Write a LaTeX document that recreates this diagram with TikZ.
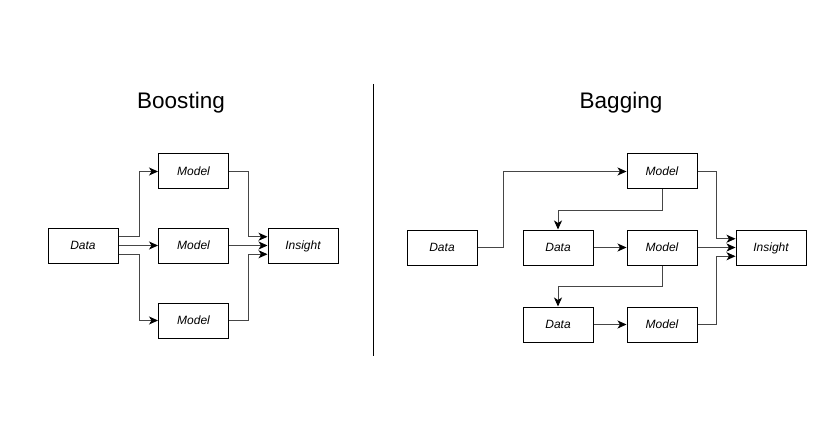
\documentclass[tikz,border=0pt]{standalone}
\usepackage{fontspec}
\setmainfont{Liberation Sans}
\usetikzlibrary{arrows.meta}
\definecolor{linkgray}{RGB}{70,70,70}
\tikzset{
  box/.style={rectangle,draw=black,line width=1pt,minimum width=70pt,minimum height=35pt,inner sep=0pt,text depth=1pt,font=\fontsize{12}{14}\selectfont\itshape},
  title/.style={font=\fontsize{22.5}{26}\selectfont},
  link/.style={draw=linkgray,line width=1pt,-{Stealth[length=9pt,width=8pt,inset=2.5pt,color=black]}}
}
\begin{document}
\begin{tikzpicture}[x=1pt,y=-1pt]
  \useasboundingbox (0,0) rectangle (834,446);
  % boosting
  \node[title] (tboost) at (181,103) {Boosting};
  \node[box] (dat) at (83,245.5) {Data};
  \node[box] (ma) at (193.5,171.5) {Model};
  \node[box] (mb) at (193.5,245.5) {Model};
  \node[box] (mc) at (193.5,320.5) {Model};
  \node[box] (ins) at (303,245.5) {Insight};
  \draw[link] ([yshift=8.75pt]dat.east) -- ++(21,0) |- (ma.west);
  \draw[link] (dat.east) -- (mb.west);
  \draw[link] ([yshift=-8.75pt]dat.east) -- ++(21,0) |- (mc.west);
  \draw[link] (ma.east) -- ++(19,0) |- ([yshift=8.75pt]ins.west);
  \draw[link] (mb.east) -- (ins.west);
  \draw[link] (mc.east) -- ++(19,0) |- ([yshift=-8.75pt]ins.west);
  % divider
  \coordinate (top) at (373.5,84);
  \coordinate (bot) at (373.5,356);
  \draw[line width=1pt] (top) -- (bot);
  % bagging
  \node[title] (tbag) at (621,103) {Bagging};
  \node[box] (d0) at (442,247.5) {Data};
  \node[box] (d1) at (558,247.5) {Data};
  \node[box] (d2) at (558,324.5) {Data};
  \node[box] (m0) at (662,171.5) {Model};
  \node[box] (m1) at (662,247.5) {Model};
  \node[box] (m2) at (662,324.5) {Model};
  \node[box] (res) at (771,247.5) {Insight};
  \draw[link] (d0.east) -- ++(26,0) |- (m0.west);
  \draw[link] (m0.south) -- ++(0,21) -| (d1.north);
  \draw[link] (d1.east) -- (m1.west);
  \draw[link] (m1.south) -- ++(0,21) -| (d2.north);
  \draw[link] (d2.east) -- (m2.west);
  \draw[link] (m0.east) -- ++(19,0) |- ([yshift=8.75pt]res.west);
  \draw[link] (m1.east) -- (res.west);
  \draw[link] (m2.east) -- ++(19,0) |- ([yshift=-8.75pt]res.west);
\end{tikzpicture}
\end{document}
